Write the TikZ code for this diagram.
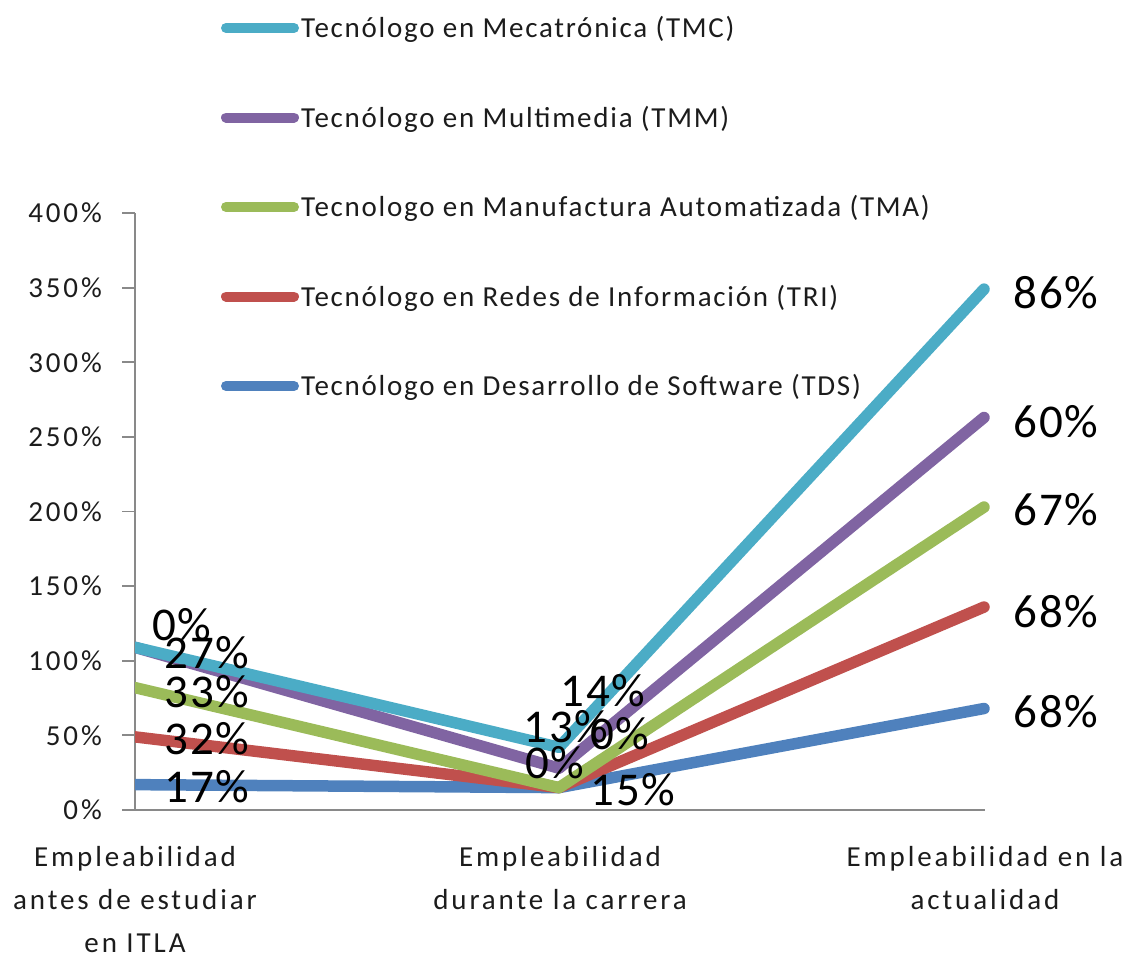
\documentclass[tikz,border=0pt]{standalone}
\usepackage{fontspec}
\setmainfont{Carlito}
\newfontfamily\legfont[LetterSpace=6]{Carlito}
\newfontfamily\tickfont[LetterSpace=10]{Carlito}
\newfontfamily\numfont[LetterSpace=3]{Carlito}
\definecolor{cTDS}{HTML}{4F81BD}
\definecolor{cTRI}{HTML}{C0504D}
\definecolor{cTMA}{HTML}{9BBB59}
\definecolor{cTMM}{HTML}{8064A2}
\definecolor{cTMC}{HTML}{4BACC6}
\definecolor{axisgray}{HTML}{898989}
\definecolor{txt}{HTML}{1C1C1C}
\begin{document}
\begin{tikzpicture}[x=1pt,y=-1pt,
  series/.style={line width=11.5pt, line cap=round, line join=round},
  axisline/.style={draw=axisgray, line width=1.8pt},
  ticklab/.style={anchor=east, inner sep=0pt, text=txt, font=\tickfont\fontsize{29}{34}\selectfont},
  catlab/.style={anchor=north, inner sep=0pt, align=center, text=txt, font=\tickfont\fontsize{29}{43}\selectfont},
  leglab/.style={anchor=base west, inner sep=0pt, text=txt, font=\legfont\fontsize{29}{34}\selectfont},
  datalab/.style={anchor=center, inner sep=0pt, text=black, font=\numfont\fontsize{47}{56}\selectfont}]
\useasboundingbox (0,0) rectangle (1131,958);

% axes
\coordinate (ytop) at (135,213);
\coordinate (orig) at (135,810);
\coordinate (xleft) at (122,810);
\coordinate (xend) at (985,810);
\draw[axisline] (ytop) -- (orig);
\draw[axisline] (xleft) -- (xend);
\foreach \k in {1,...,8}{
  \coordinate (tk\k) at (135,{810-74.625*\k});
  \coordinate (tl\k) at (122,{810-74.625*\k});
  \draw[axisline] (tl\k) -- (tk\k);
}
\foreach \k/\lab in {0/0,1/50,2/100,3/150,4/200,5/250,6/300,7/350,8/400}{
  \node[ticklab] (ylab\k) at (102,{810-74.625*\k}) {\lab\%};
}

% category labels
\node[catlab] (cat1) at (135,846) {Empleabilidad\\antes de estudiar\\en ITLA};
\node[catlab] (cat2) at (560,846) {Empleabilidad\\durante la carrera};
\node[catlab] (cat3) at (985,846) {Empleabilidad en la\\actualidad};

% data points (stacked)
\foreach \s/\a/\b/\c in {TDS/17/15/68, TRI/49/15/136, TMA/82/15/203, TMM/109/28/263, TMC/109/42/349}{
  \coordinate (\s1) at (135,{810-1.4925*\a});
  \coordinate (\s2) at (559,{810-1.4925*\b});
  \coordinate (\s3) at (984,{810-1.4925*\c});
}
\begin{scope}
  \clip (135,0) rectangle (1131,958);
  \draw[series, cTDS] (TDS1) -- (TDS2) -- (TDS3);
  \draw[series, cTRI] (TRI1) -- (TRI2) -- (TRI3);
  \draw[series, cTMA] (TMA1) -- (TMA2) -- (TMA3);
  \draw[series, cTMM] (TMM1) -- (TMM2) -- (TMM3);
  \draw[series, cTMC] (TMC1) -- (TMC2) -- (TMC3);
\end{scope}

% legend
\foreach \s/\y/\t in {TMC/28/{Tecnólogo en Mecatrónica (TMC)},
                      TMM/117.5/{Tecnólogo en Multimedia (TMM)},
                      TMA/207/{Tecnologo en Manufactura Automatizada (TMA)},
                      TRI/296.5/{Tecnólogo en Redes de Información (TRI)},
                      TDS/386/{Tecnólogo en Desarrollo de Software (TDS)}}{
  \coordinate (lg\s a) at (226,\y);
  \coordinate (lg\s b) at (294,\y);
  \draw[series, line width=10pt, c\s] (lg\s a) -- (lg\s b);
  \node[leglab] (lt\s) at (301,{\y+9.5}) {\t};
}

% data labels
\node[datalab] (dTDS1) at (207,787) {17\%};
\node[datalab] (dTRI1) at (207,739) {32\%};
\node[datalab] (dTMA1) at (207,692) {33\%};
\node[datalab] (dTMM1) at (207,653) {27\%};
\node[datalab] (dTMC1) at (182,625) {0\%};
\node[datalab] (dTDS2) at (633,790) {15\%};
\node[datalab] (dTRI2) at (555,763) {0\%};
\node[datalab] (dTMA2) at (620,734) {0\%};
\node[datalab] (dTMM2) at (566,727) {13\%};
\node[datalab] (dTMC2) at (603,691) {14\%};
\node[datalab] (dTDS3) at (1056,712) {68\%};
\node[datalab] (dTRI3) at (1056,612) {68\%};
\node[datalab] (dTMA3) at (1056,510) {67\%};
\node[datalab] (dTMM3) at (1056,422) {60\%};
\node[datalab] (dTMC3) at (1056,293) {86\%};
\end{tikzpicture}
\end{document}
